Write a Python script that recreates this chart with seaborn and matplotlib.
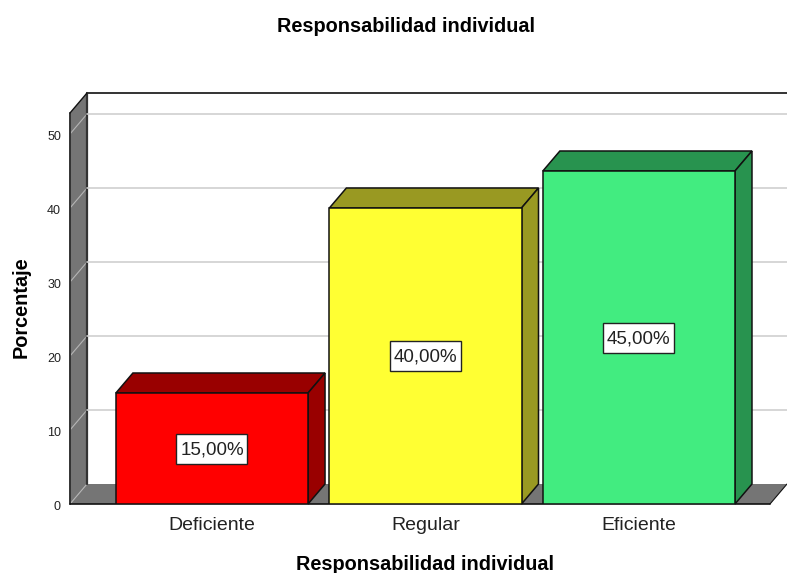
import numpy as np
import pandas as pd
import matplotlib
matplotlib.use("Agg")
import matplotlib.pyplot as plt
import seaborn as sns
from matplotlib.patches import Polygon, Rectangle
from matplotlib.transforms import Affine2D

# Data
categorias = ["Deficiente", "Regular", "Eficiente"]
porcentajes = [15, 40, 45]
etiquetas = ["15,00%", "40,00%", "45,00%"]
ticks_y = [0, 10, 20, 30, 40, 50]

colores = ["#FF0000", "#FFFF33", "#42EC80"]
colores_lado = ["#990000", "#999922", "#28934F"]

df = pd.DataFrame({"categoria": categorias, "porcentaje": porcentajes})

sns.set_theme(style="white")
plt.rcParams["font.family"] = ["Liberation Sans", "DejaVu Sans"]

W, H = 787, 573
fig = plt.figure(figsize=(W / 100, H / 100), dpi=100, facecolor="white")
# front plane of the 3D box, in pixels
left, right, bottom, top = 70, 770, 504, 113
ax = fig.add_axes([left / W, 1 - bottom / H, (right - left) / W, (bottom - top) / H])

sns.barplot(
    data=df, x="categoria", y="porcentaje", hue="categoria",
    palette=colores, saturation=1, width=0.9, dodge=False, legend=False,
    edgecolor="#111111", linewidth=1.1, zorder=5, ax=ax,
)
ax.set_xlim(-0.665, 2.614)
ax.set_ylim(0, (bottom - top) / 7.4)
ax.patch.set_visible(False)
for s in ax.spines.values():
    s.set_visible(False)

# depth of the fake 3D, pixels
dx, dy = 17, 20


def to_fig(points):
    # pixel coords (y from top) to figure fraction
    return [(x / W, 1 - y / H) for x, y in points]


def poly(points, face, edge="none", lw=0, z=1):
    fig.add_artist(Polygon(to_fig(points), closed=True, facecolor=face, edgecolor=edge,
                           linewidth=lw, zorder=z, clip_on=False))


gris = "#757575"
# left wall and floor
poly([(left, top), (left + dx, top - dy), (left + dx, bottom - dy), (left, bottom)], gris, z=-3)
poly([(left, bottom), (left + dx, bottom - dy), (right + dx, bottom - dy), (right, bottom)], gris, z=-3)

# gridlines on the back wall and across the left wall
offset = Affine2D().translate(dx, dy)
for t in ticks_y[1:]:
    ax.plot([ax.get_xlim()[0], ax.get_xlim()[1]], [t, t], color="#CFCFCF", lw=1.2,
            transform=ax.transData + offset, clip_on=False, zorder=1)
for t in ticks_y:
    y0 = ax.transData.transform((0, t))[1]
    fig.add_artist(plt.Line2D([left / W, (left + dx) / W],
                              [y0 / H, (y0 + dy) / H],
                              color="#B5B5B5", lw=0.8, zorder=-2))

# box outline
negro = "#111111"
fig.add_artist(plt.Line2D([(left + dx) / W, 1], [1 - (top - dy) / H] * 2, color=negro, lw=1.2, zorder=-1))
fig.add_artist(plt.Line2D([(left + dx) / W] * 2, [1 - (top - dy) / H, 1 - (bottom - dy) / H],
                          color="#333333", lw=1.6, zorder=-1))
fig.add_artist(plt.Line2D([left / W] * 2, [1 - top / H, 1 - bottom / H], color="#333333", lw=1.4, zorder=-1))
fig.add_artist(plt.Line2D([left / W, (left + dx) / W], [1 - top / H, 1 - (top - dy) / H],
                          color=negro, lw=1.0, zorder=-1))
fig.add_artist(plt.Line2D([left / W, right / W], [1 - bottom / H] * 2, color=negro, lw=1.2, zorder=-1))
fig.add_artist(plt.Line2D([right / W, (right + dx) / W], [1 - bottom / H, 1 - (bottom - dy) / H],
                          color=negro, lw=0.8, zorder=-1))

# sides and tops of the bars, taken from the seaborn patches
for bar, c in zip(ax.patches, colores_lado):
    x0, y0 = ax.transData.transform((bar.get_x(), 0))
    x1, y1 = ax.transData.transform((bar.get_x() + bar.get_width(), bar.get_height()))
    for pts in (
        [(x0, y1), (x0 + dx, y1 + dy), (x1 + dx, y1 + dy), (x1, y1)],
        [(x1, y0), (x1 + dx, y0 + dy), (x1 + dx, y1 + dy), (x1, y1)],
    ):
        ax.add_patch(Polygon(pts, closed=True, facecolor=c, edgecolor="#111111", linewidth=1.1,
                             transform=None, clip_on=False, zorder=4))

# value labels, box drawn apart because it is taller than the text needs
box_w, box_h = 71, 30
for i, (v, txt) in enumerate(zip(porcentajes, etiquetas)):
    cx, cy = ax.transData.transform((i, v / 2))
    ax.add_patch(Rectangle((cx - box_w / 2, cy - box_h / 2), box_w, box_h, facecolor="white",
                           edgecolor="#222222", linewidth=1.0, transform=None, clip_on=False, zorder=6))
    ax.annotate(txt, (i, v / 2), xytext=(0, -0.8), textcoords="offset points", ha="center", va="center",
                fontsize=13.5, color="#222222", zorder=7)

# axes text
ax.set_yticks(ticks_y)
ax.set_yticklabels([str(t) for t in ticks_y], fontsize=9, color="#222222")
ax.tick_params(axis="y", length=0, pad=6.5)
ax.tick_params(axis="x", length=0, pad=9.5, labelsize=14, labelcolor="#222222")
for lab in ax.get_yticklabels():
    lab.set_y(lab.get_position()[1])
    lab.set_transform(lab.get_transform() + Affine2D().translate(0, -1))
ax.set_xlabel("")
ax.set_ylabel("")

fig.text(406 / W, 1 - 27 / H, "Responsabilidad individual", ha="center", va="center",
         fontsize=14.3, fontweight="bold", color="black")
fig.text(425 / W, 1 - 565 / H, "Responsabilidad individual", ha="center", va="center",
         fontsize=14.3, fontweight="bold", color="black")
fig.text(21 / W, 1 - 307 / H, "Porcentaje", ha="center", va="center", rotation=90,
         fontsize=14.3, fontweight="bold", color="black")

fig.savefig("out.png", dpi=100)
